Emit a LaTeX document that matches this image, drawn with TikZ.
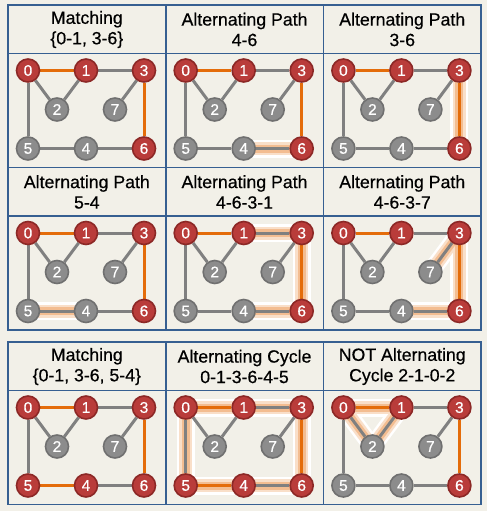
\documentclass[tikz,border=0pt]{standalone}
\usepackage{fontspec}
\setmainfont{Liberation Sans}
\newfontfamily\ttlfont[FakeBold=0.5]{Liberation Sans}
\usetikzlibrary{positioning}
\definecolor{paper}{RGB}{242,240,232}
\definecolor{frameB}{RGB}{54,95,145}
\definecolor{matchO}{RGB}{228,108,10}
\definecolor{edgeG}{RGB}{128,128,128}
\definecolor{redF}{RGB}{185,60,58}
\definecolor{redD}{RGB}{140,40,38}
\definecolor{greyF}{RGB}{140,140,140}
\definecolor{greyD}{RGB}{112,112,112}
\pgfdeclarelayer{paperL}
\pgfdeclarelayer{glow}
\pgfdeclarelayer{edges}
\pgfsetlayers{paperL,glow,edges,main}

% #1 prefix, #2/#3 top left, #4 title, #5 red nodes, #6 grey nodes,
% #7 style of edge 5-4, #8 highlighted edges
\newcommand{\gpanel}[8]{%
  \begin{scope}[shift={(#2,#3)}]
    \draw[frame] (0,0) rectangle (157.7,48.5);
    \draw[frame] (0,48.5) rectangle (157.7,162.5);
    \node[ttl] (#1-t) at (78.85,24.5) {#4};
    \foreach \n/\px/\py in {0/20/65.5,1/78/65.5,3/136/65.5,2/49/104.5,7/107/104.5,5/20/143.5,4/78/143.5,6/136/143.5}
      \coordinate (#1-p\n) at (\px,\py);
    \foreach \n in {#5} \node[rv] (#1-\n) at (#1-p\n) {\n};
    \foreach \n in {#6} \node[gv] (#1-\n) at (#1-p\n) {\n};
    \begin{pgfonlayer}{edges}
      \foreach \a/\b in {1/3,0/2,2/1,3/7,0/5,4/6} \draw[plain] (#1-\a) -- (#1-\b);
      \foreach \a/\b in {0/1,3/6} \draw[match] (#1-\a) -- (#1-\b);
      \draw[#7] (#1-5) -- (#1-4);
    \end{pgfonlayer}
    \if\relax\detokenize{#8}\relax\else
    \begin{pgfonlayer}{glow}
      \foreach \a/\b in {#8} \draw[glowA] (#1-\a) -- (#1-\b);
      \foreach \a/\b in {#8} \draw[glowB] (#1-\a) -- (#1-\b);
      \foreach \a/\b in {#8} \draw[glowC] (#1-\a) -- (#1-\b);
    \end{pgfonlayer}
    \fi
  \end{scope}}

\begin{document}
\begin{tikzpicture}[x=1pt, y=-1pt,
  frame/.style={draw=frameB, line width=1.6pt},
  ttl/.style={align=center, font=\ttlfont\fontsize{17.7}{20.5}\selectfont, inner sep=0pt},
  vtx/.style={circle, minimum size=23pt, inner sep=0pt, line width=1.6pt, text=white, font=\ttlfont\fontsize{15.5}{15.5}\selectfont},
  rv/.style={vtx, fill=redF, draw=redD},
  gv/.style={vtx, fill=greyF, draw=greyD},
  plain/.style={draw=edgeG, line width=3pt},
  match/.style={draw=matchO, line width=3pt},
  glowA/.style={draw=white, line width=18pt, line cap=rect},
  glowB/.style={draw=matchO!22, line width=13pt, line cap=rect},
  glowC/.style={draw=matchO!45, line width=8pt, line cap=rect}]
  \begin{pgfonlayer}{paperL}
    \fill[paper] (0,0) rectangle (487,511);
  \end{pgfonlayer}
  \useasboundingbox (0,0) rectangle (487,511);

  % first row
  \gpanel{A}{8}{5}{Matching\\\{0-1, 3-6\}}{0,1,3,6}{2,7,5,4}{plain}{}
  \gpanel{B}{165.7}{5}{Alternating Path\\4-6}{0,1,3,6}{2,7,5,4}{plain}{4/6}
  \gpanel{C}{323.4}{5}{Alternating Path\\3-6}{0,1,3,6}{2,7,5,4}{plain}{3/6}
  % second row
  \gpanel{D}{8}{167.5}{Alternating Path\\5-4}{0,1,3,6}{2,7,5,4}{plain}{5/4}
  \gpanel{E}{165.7}{167.5}{Alternating Path\\4-6-3-1}{0,1,3,6}{2,7,5,4}{plain}{4/6,6/3,3/1}
  \gpanel{F}{323.4}{167.5}{Alternating Path\\4-6-3-7}{0,1,3,6}{2,7,5,4}{plain}{4/6,6/3,3/7}
  % third row
  \gpanel{G}{8}{342}{Matching\\\{0-1, 3-6, 5-4\}}{0,1,3,6,5,4}{2,7}{match}{}
  \gpanel{H}{165.7}{342}{Alternating Cycle\\0-1-3-6-4-5}{0,1,3,6,5,4}{2,7}{match}{0/1,1/3,3/6,6/4,4/5,5/0}
  \gpanel{I}{323.4}{342}{NOT Alternating\\Cycle 2-1-0-2}{0,1,3,6}{2,7,5,4}{plain}{2/1,1/0,0/2}
\end{tikzpicture}
\end{document}
